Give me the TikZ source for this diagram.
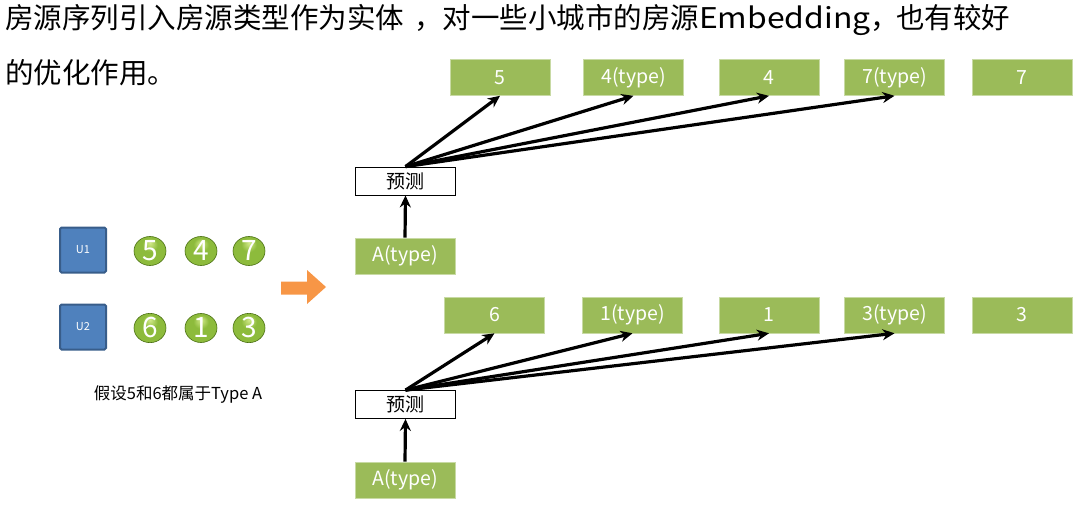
\documentclass[tikz,border=0pt]{standalone}
\usepackage{fontspec}
\usepackage{graphicx}
\setmainfont{Noto Sans CJK SC}
\usetikzlibrary{arrows.meta,shapes.geometric}
\definecolor{gbox}{HTML}{9BBB59}
\definecolor{ublue}{HTML}{4F81BD}
\definecolor{ublueb}{HTML}{385D8A}
\definecolor{orng}{HTML}{F79646}
\definecolor{ballhi}{HTML}{D2EA8A}
\definecolor{ballmid}{HTML}{8DBB3C}
\definecolor{balldk}{HTML}{5C8A1C}
\definecolor{ballrim}{HTML}{4A7012}
\pgfdeclareradialshading{gball}{\pgfpoint{0bp}{14bp}}{%
  color(0bp)=(ballhi); color(12bp)=(ballmid); color(30bp)=(ballmid); color(38bp)=(balldk); color(50bp)=(balldk)}
\tikzset{
  gnode/.style={fill=gbox, draw=gbox!55!white, line width=0.6pt, minimum width=100pt, minimum height=36pt, inner sep=0pt, text=white, font=\fontsize{19.5}{19.5}\selectfont},
  pnode/.style={fill=white, draw=black, line width=0.8pt, minimum width=100pt, minimum height=28pt, inner sep=0pt, font=\fontsize{19}{19}\selectfont},
  unode/.style={fill=ublue, draw=ublueb, line width=2pt, rounded corners=1.5pt, minimum width=46pt, minimum height=45pt, inner sep=0pt, text=white, font=\fontsize{11}{11}\selectfont},
  ball/.style={ellipse, shading=gball, draw=ballrim, line width=0.6pt, minimum width=32pt, minimum height=29pt, inner sep=0pt, text=white, font=\fontsize{28}{28}\selectfont},
  arr/.style={line width=3.2pt, -{Stealth[length=12pt,width=11pt]}},
  head/.style={anchor=west, inner sep=0pt, font=\fontsize{28.5}{28.5}\selectfont},
}
\begin{document}
\begin{tikzpicture}[x=1pt,y=-1pt]
\useasboundingbox (0,0) rectangle (1080,506);
% header
\node[head] (h1) at (5,20) {房源序列引入房源类型作为实体\hspace{10pt}，对一些小城市的房源\scalebox{1.12}[1]{Embedding}，\hspace{-3pt}也有较好};
\node[head] (h2) at (5,73) {的优化作用。};
% left
\node[unode] (u1) at (83,250) {U1};
\node[unode] (u2) at (83,327) {U2};
\node[ball] (b5) at (150,251) {5};
\node[ball] (b4) at (201,251) {4};
\node[ball] (b7) at (249,251) {7};
\node[ball] (b6) at (150,328) {6};
\node[ball] (b1) at (201,328) {1};
\node[ball] (b3) at (249,328) {3};
\fill[orng] (281,281.5) -- (307,281.5) -- (307,270) -- (326,287) -- (307,304) -- (307,294.5) -- (281,294.5) -- cycle;
\node[font=\fontsize{16.5}{16.5}\selectfont] (cap) at (178,395) {假设5和6都属于Type A};
% row 1
\node[gnode] (t5) at (500,77.5) {5};
\node[gnode] (t4t) at (633.5,77.5) {4(type)};
\node[gnode] (t4) at (769,77.5) {4};
\node[gnode] (t7t) at (894.5,77.5) {7(type)};
\node[gnode] (t7) at (1022,77.5) {7};
\node[pnode] (p1) at (405.5,181) {预测};
\node[gnode] (a1) at (405,256) {A(type)};
\draw[arr] (a1.north) -- (p1.south);
\draw[arr] (p1.north) -- (t5.south);
\draw[arr] (p1.north) -- (t4t.south);
\draw[arr] (p1.north) -- (t4.south);
\draw[arr] (p1.north) -- (t7t.south);
% row 2
\node[gnode] (s6) at (494.5,315) {6};
\node[gnode] (s1t) at (632.5,315) {1(type)};
\node[gnode] (s1) at (769,315) {1};
\node[gnode] (s3t) at (894.5,315) {3(type)};
\node[gnode] (s3) at (1022,315) {3};
\node[pnode] (p2) at (405.5,404.5) {预测};
\node[gnode] (a2) at (405,480) {A(type)};
\draw[arr] (a2.north) -- (p2.south);
\draw[arr] (p2.north) -- (s6.south);
\draw[arr] (p2.north) -- (s1t.south);
\draw[arr] (p2.north) -- (s1.south);
\draw[arr] (p2.north) -- (s3t.south);
\end{tikzpicture}
\end{document}
